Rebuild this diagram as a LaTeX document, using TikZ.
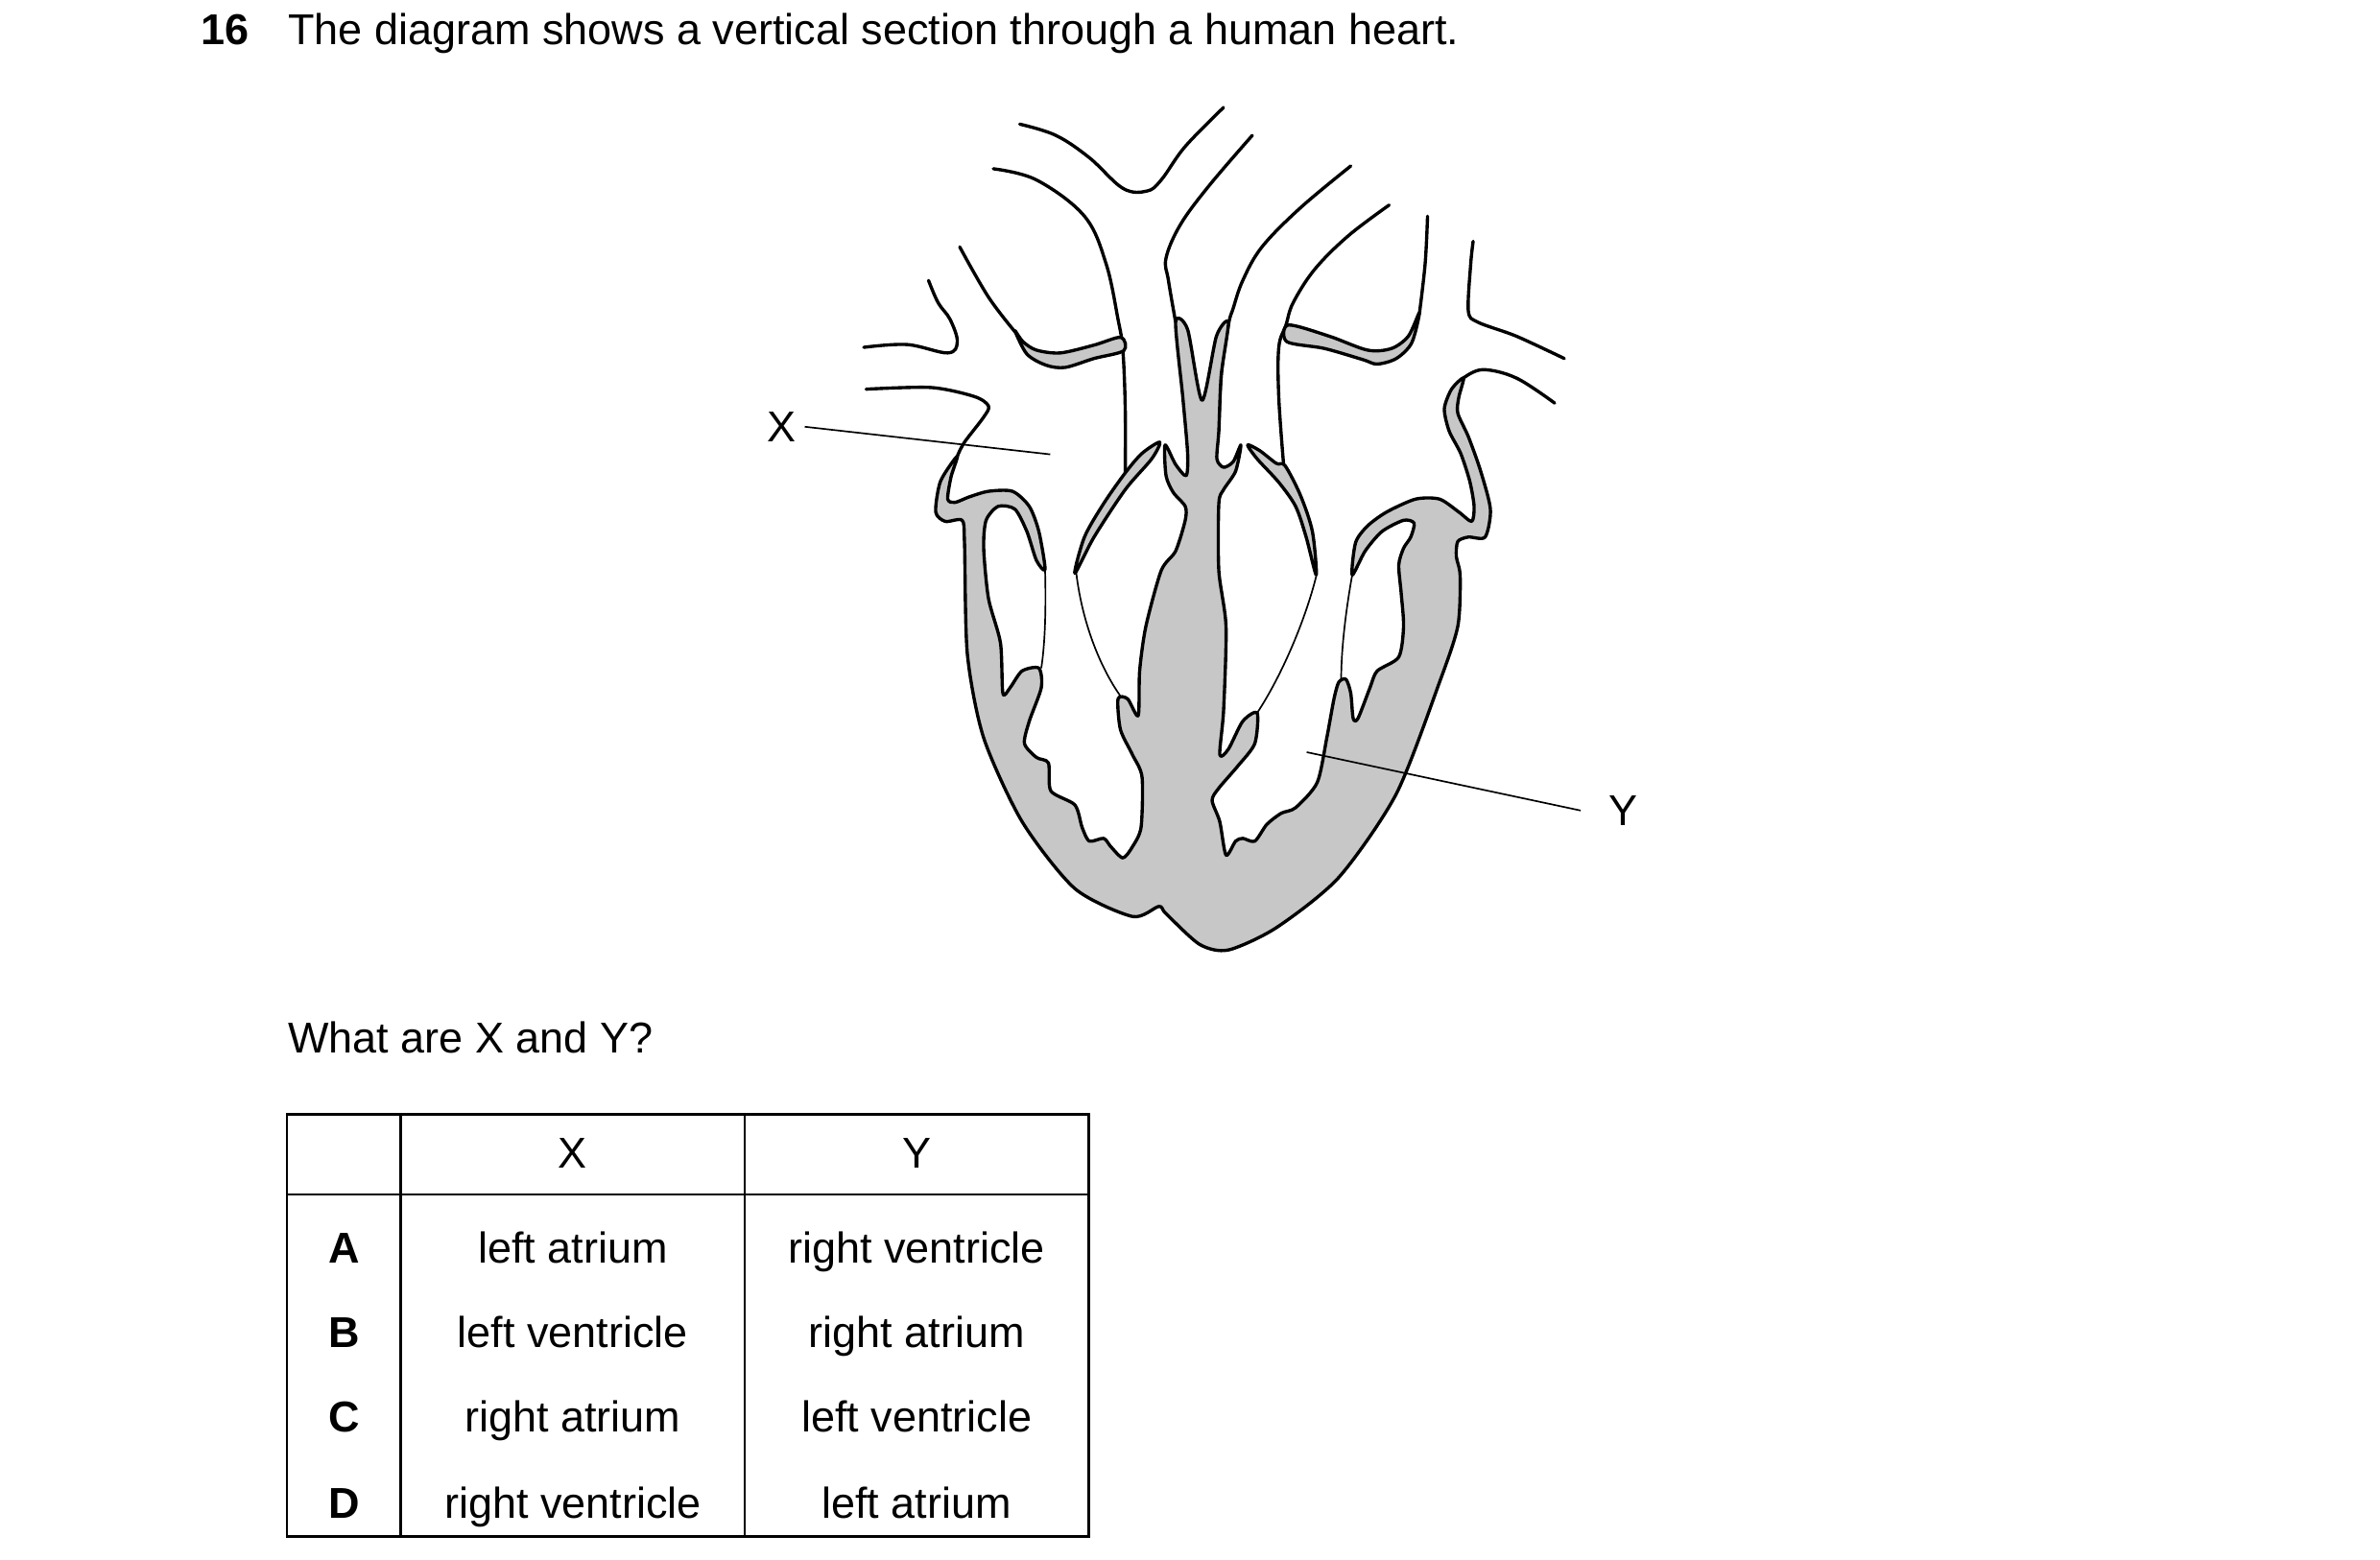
\documentclass[tikz,border=0pt]{standalone}
\usepackage{fontspec}
\setmainfont{Liberation Sans}
\begin{document}
\begin{tikzpicture}[x=0.1mm,y=-0.1mm,
  wall/.style={fill=black!22,draw=black,line width=0.6pt,line join=round},
  vessel/.style={draw=black,line width=0.6pt,line cap=round,line join=round},
  thin/.style={draw=black,line width=0.3pt},
  txt/.style={font=\fontsize{8}{10}\selectfont,inner sep=0pt},
  grid/.style={draw=black,line width=0.45pt}]
\useasboundingbox (0,0) rectangle (1550,1016);
\node[txt,anchor=base west] (num) at (130,29) {\bfseries 16};
\node[txt,anchor=base west] (title) at (187,29) {The diagram shows a vertical section through a human heart.};
\node[txt,anchor=base west] (q) at (187,686) {What are X and Y?};
\begin{scope}[shift={(550,62.7)},xscale=0.3125,yscale=0.3635]
% vessels
\draw[vessel] plot[smooth,tension=0.6] coordinates {(40,450)(130,445)(215,460)(235,440)(220,400)(195,370)(175,330)};
\draw[vessel] plot[smooth,tension=0.5] coordinates {(45,525)(180,522)(270,538)(300,555)(290,575)(250,620)(235,645)};
\draw[vessel] plot[smooth,tension=0.6] coordinates {(240,270)(300,360)(358,425)};
\draw[vessel] plot[smooth,tension=0.6] coordinates {(310,130)(400,150)(500,215)(545,300)(570,400)(580,455)(585,560)(585,675)};
\draw[vessel] plot[smooth,tension=0.6] coordinates {(365,50)(440,70)(510,110)(580,165)(630,170)(660,150)(710,90)(790,20)};
\draw[vessel] plot[smooth,tension=0.6] coordinates {(850,70)(760,160)(700,230)(670,290)(675,330)(690,405)};
\draw[vessel] plot[smooth,tension=0.6] coordinates {(1055,125)(950,200)(870,270)(830,330)(810,380)(800,410)(785,500)(780,600)};
\draw[vessel] plot[smooth,tension=0.6] coordinates {(1135,195)(1050,250)(980,310)(935,370)(920,410)(905,450)(905,540)(915,660)};
\draw[vessel] plot[smooth,tension=0.6] coordinates {(1215,215)(1210,300)(1198,390)};
\draw[vessel] plot[smooth,tension=0.5] coordinates {(1310,260)(1305,300)(1300,385)(1320,405)(1400,430)(1500,470)};
\draw[vessel] plot[smooth,tension=0.6] coordinates {(1480,550)(1400,505)(1330,490)(1290,505)};
% bands
\draw[wall] plot[smooth cycle,tension=0.5] coordinates {(355,420)(380,462)(420,482)(460,486)(520,470)(582,456)(576,432)(520,446)(450,460)(400,455)(372,440)};
\draw[wall] plot[smooth cycle,tension=0.5] coordinates {(925,410)(1010,430)(1090,455)(1140,452)(1175,430)(1198,388)(1182,442)(1150,470)(1110,480)(1080,472)(1000,452)(922,440)};
% flaps
\draw[wall] plot[smooth cycle,tension=0.5] coordinates {(480,855)(520,790)(585,705)(640,650)(657,620)(620,640)(585,675)(540,730)(500,790)};
\draw[wall] plot[smooth cycle,tension=0.5] coordinates {(983,858)(975,780)(950,715)(918,662)(900,658)(865,635)(840,625)(860,650)(905,692)(940,735)(962,790)};
% main body
\draw[wall] plot[smooth cycle,tension=0.45] coordinates {
(245,760)(210,762)(190,745)(200,690)(235,645)
(222,682)(215,722)(230,728)(260,718)(300,708)(350,708)(385,735)(405,780)(418,848)
(400,832)(380,780)(355,740)(320,735)(295,760)(290,810)(300,900)(325,980)(330,1070)(345,1060)(370,1030)(405,1025)(410,1060)(385,1120)(375,1160)(400,1185)(425,1195)(430,1245)(480,1270)(495,1310)(510,1335)(540,1330)(555,1345)(580,1365)(600,1345)(618,1310)(620,1220)(600,1180)(575,1135)(570,1080)(590,1080)(612,1110)(615,1030)(628,950)(660,850)(690,815)(710,760)(710,735)(685,710)(670,680)(668,625)(690,660)(712,680)(715,640)(705,540)(690,405)
(715,418)(745,545)(775,430)(800,405)
(785,500)(780,600)(776,650)(790,665)(810,655)(826,625)(815,672)(790,705)(780,730)(780,850)(795,950)(790,1100)(782,1180)(800,1170)(830,1120)(860,1105)(855,1160)(820,1200)(780,1240)(766,1262)(782,1300)(795,1360)(815,1335)(830,1330)(855,1335)(880,1305)(910,1285)(940,1275)(985,1230)(1005,1150)(1020,1080)(1030,1050)(1045,1045)(1055,1070)(1060,1115)(1070,1115)(1095,1060)(1110,1030)(1155,1005)(1165,950)(1160,890)(1155,840)(1165,810)(1180,790)(1187,765)(1165,760)(1120,780)(1085,815)(1058,858)
(1065,800)(1090,770)(1130,745)(1190,722)(1240,722)(1280,745)(1307,762)(1312,735)(1303,690)(1284,640)(1260,600)(1250,560)(1265,525)(1290,505)
(1280,540)(1278,568)(1300,610)(1325,670)(1346,740)(1335,790)(1300,790)(1278,798)(1275,825)(1283,860)(1278,950)(1240,1050)(1150,1250)(1030,1400)(900,1490)(800,1530)(740,1520)(670,1465)(655,1452)(600,1470)(480,1420)(370,1300)(290,1150)(256,1000)(250,800)};
% valve cords
\draw[thin] (418,850) .. controls (420,920) and (418,980) .. (410,1025);
\draw[thin] (483,855) .. controls (495,940) and (530,1020) .. (575,1075);
\draw[thin] (983,860) .. controls (960,940) and (910,1040) .. (860,1105);
\draw[thin] (1058,858) .. controls (1045,920) and (1035,990) .. (1035,1045);
\end{scope}
% labels X and Y
\node[txt] (X) at (509,278) {X};
\coordinate (xe) at (684,296);
\draw[thin] (X.east) ++(5,0) -- (xe);
\node[txt] (Y) at (1057,528) {Y};
\coordinate (ye) at (851,490);
\draw[thin] (ye) -- ([xshift=-5]Y.west);
% table
\draw[grid] (187,726) rectangle (709,1001);
\draw[grid] (187,778) -- (709,778);
\draw[grid] (261,726) -- (261,1001);
\draw[grid] (485,726) -- (485,1001);
\node[txt,anchor=base] (hx) at (373,761) {X};
\node[txt,anchor=base] (hy) at (597,761) {Y};
\node[txt,anchor=base] (la) at (224,823) {\bfseries A};
\node[txt,anchor=base] (lb) at (224,878) {\bfseries B};
\node[txt,anchor=base] (lc) at (224,933) {\bfseries C};
\node[txt,anchor=base] (ld) at (224,989) {\bfseries D};
\node[txt,anchor=base] (ax) at (373,823) {left atrium};
\node[txt,anchor=base] (bx) at (373,878) {left ventricle};
\node[txt,anchor=base] (cx) at (373,933) {right atrium};
\node[txt,anchor=base] (dx) at (373,989) {right ventricle};
\node[txt,anchor=base] (ay) at (597,823) {right ventricle};
\node[txt,anchor=base] (by) at (597,878) {right atrium};
\node[txt,anchor=base] (cy) at (597,933) {left ventricle};
\node[txt,anchor=base] (dy) at (597,989) {left atrium};
\end{tikzpicture}
\end{document}
